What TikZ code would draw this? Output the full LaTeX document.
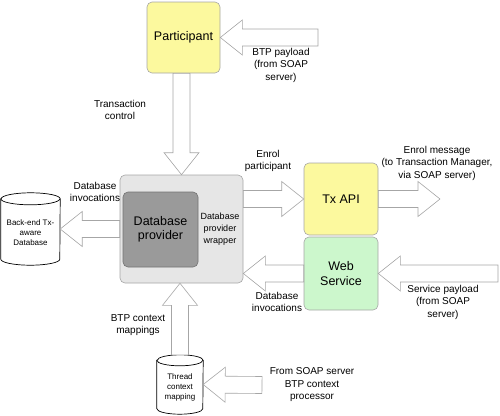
\documentclass[tikz,border=0pt]{standalone}
\usepackage{fontspec}
\setmainfont{Liberation Sans}
\usetikzlibrary{calc}
\definecolor{boxyellow}{HTML}{FCF99E}
\definecolor{boxgreen}{HTML}{CCF7CC}
\definecolor{wrapgray}{HTML}{E6E6E6}
\definecolor{provgray}{HTML}{9A9A9A}
\definecolor{linegray}{HTML}{A6A6A6}
\tikzset{
 box/.style={draw=#1, rounded corners=5pt, inner sep=0pt, align=center, font=\fontsize{12.5}{14.5}\selectfont, line width=0.6pt},
 lbl/.style={align=center, font=\fontsize{10}{12.5}\selectfont, inner sep=0pt},
 smalltext/.style={align=center, font=\fontsize{8}{10}\selectfont, inner sep=0pt},
 fatarrow/.style={draw=linegray, fill=white, line width=0.6pt, line join=miter},
 cyl/.style={draw=black, fill=white, line width=0.7pt},
 cylholder/.style={inner sep=0pt, draw=none},
}
\newcommand\fatarrow[2]{%
 \path (#1) coordinate (fa-s) (#2) coordinate (fa-t);
 \path ($(fa-t)!22pt!(fa-s)$) coordinate (fa-b);
 \draw[fatarrow] ($(fa-s)!8.5pt!90:(fa-t)$) -- ($(fa-b)!8.5pt!90:(fa-t)$) -- ($(fa-b)!17.5pt!90:(fa-t)$) -- (fa-t) -- ($(fa-b)!17.5pt!-90:(fa-t)$) -- ($(fa-b)!8.5pt!-90:(fa-t)$) -- ($(fa-s)!8.5pt!-90:(fa-t)$) -- cycle;
}
\newcommand\cylout[3]{%
 \draw[cyl] ($(#1.north west)+(0,#2)$) -- ($(#1.south west)+(0,-#2)$) arc[start angle=180,end angle=360,x radius=#3pt,y radius=#2pt] -- ($(#1.north east)+(0,#2)$) arc[start angle=0,end angle=180,x radius=#3pt,y radius=#2pt] -- cycle;
 \draw[cyl,fill=none] ($(#1.north west)+(0,#2)$) arc[start angle=180,end angle=360,x radius=#3pt,y radius=#2pt];
}
\begin{document}
\begin{tikzpicture}[x=1pt,y=-1pt]
\useasboundingbox (0,0) rectangle (500,415);

% boxes
\node[box=gray!70, fill=boxyellow, minimum width=73pt, minimum height=71pt] (part) at (183.5,37.5) {Participant};
\node[box=gray!70, fill=wrapgray, minimum width=123pt, minimum height=108pt] (wrap) at (181.5,229) {};
\node[box=gray!90!black, fill=provgray, minimum width=75pt, minimum height=75pt] (dbp) at (160.5,229.5) {Database\\provider};
\node[smalltext, font=\fontsize{9}{12}\selectfont] (wraplbl) at (220,229) {Database\\provider\\wrapper};
\node[box=gray!70, fill=boxyellow, minimum width=74pt, minimum height=72pt] (txapi) at (341,199) {Tx API};
\node[box=gray!70, fill=boxgreen, minimum width=74pt, minimum height=73pt] (ws) at (341,273.5) {Web\\Service};

% cylinders
\node[cylholder, minimum width=59pt, minimum height=72pt] (bdb) at (30.5,229) {};
\cylout{bdb}{6}{29.5}
\node[smalltext] (bdbt) at (30.5,233) {Back-end Tx-\\aware\\Database};
\node[cylholder, minimum width=46pt, minimum height=59pt] (tcm) at (180,384.5) {};
\cylout{tcm}{5.5}{23}
\node[smalltext] (tcmt) at (180,387.5) {Thread\\context\\mapping};

% free ends
\coordinate (bpsrc) at (318,37.5);
\coordinate (enrolout) at (440,199);
\coordinate (spsrc) at (498,273.5);
\coordinate (ctxsrc) at (262,385);

% fat arrows
\fatarrow{bpsrc}{part.east}
\fatarrow{part.south -| wrap.north}{wrap.north}
\fatarrow{wrap.west}{bdb.east}
\fatarrow{wrap.east |- txapi.west}{txapi.west}
\fatarrow{txapi.east}{enrolout}
\fatarrow{ws.west}{wrap.east |- ws.west}
\fatarrow{spsrc}{ws.east}
\fatarrow{tcm.north}{tcm.north |- wrap.south}
\fatarrow{ctxsrc}{tcm.east}

% labels
\node[lbl] (l1) at (281,65) {BTP payload\\(from SOAP\\server)};
\node[lbl] (l2) at (120,110) {Transaction\\control};
\node[lbl] (l3) at (95,192) {Database\\invocations};
\node[lbl] (l4) at (268,161) {Enrol\\participant};
\node[lbl] (l5) at (437,163) {Enrol message\\(to Transaction Manager,\\via SOAP server)};
\node[lbl] (l6) at (277,302) {Database\\invocations};
\node[lbl] (l7) at (443,302) {Service payload\\(from SOAP\\server)};
\node[lbl] (l8) at (138,325) {BTP context\\mappings};
\node[lbl] (l9) at (312,385) {From SOAP server\\BTP context\\processor};
\end{tikzpicture}
\end{document}
